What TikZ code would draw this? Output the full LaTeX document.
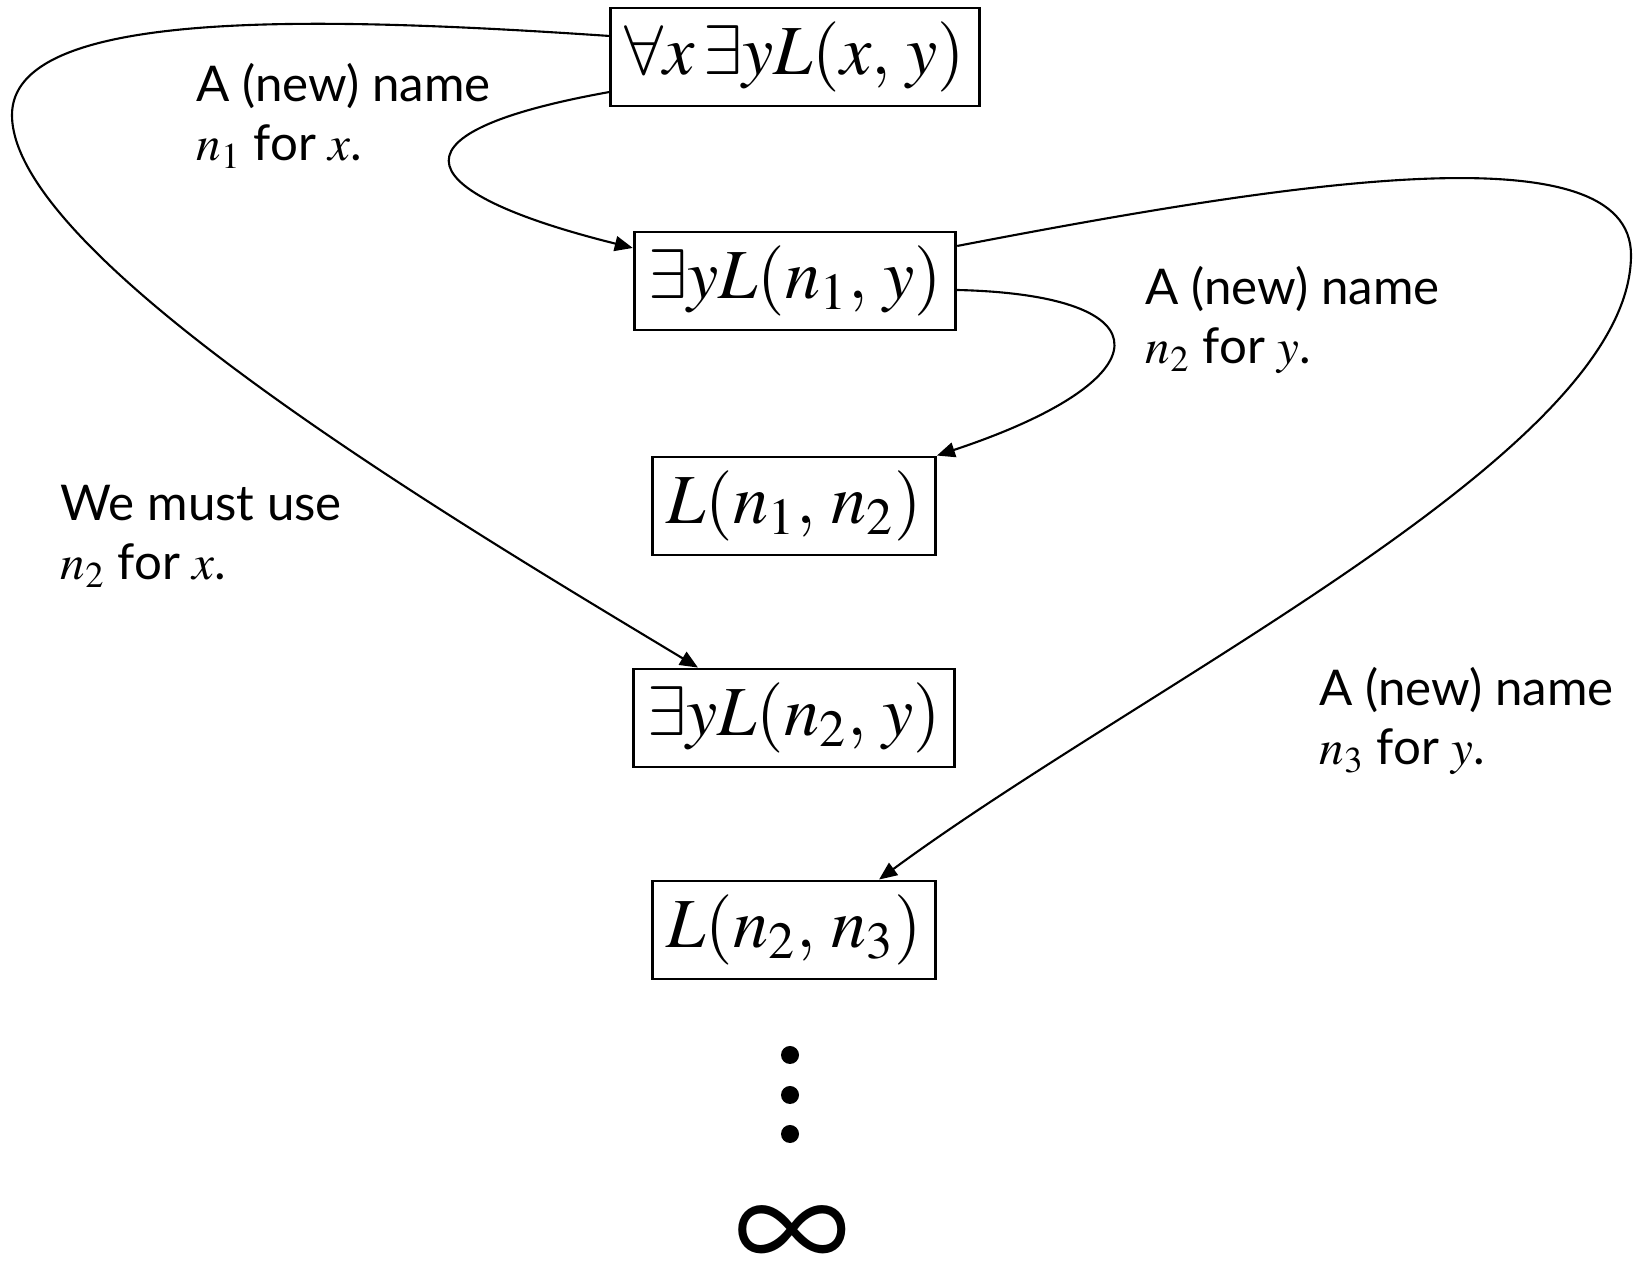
\documentclass[tikz,border=0pt]{standalone}
\usepackage{mathptmx}
\usepackage[no-math]{fontspec}
\setmainfont{Lato}
\usetikzlibrary{arrows.meta}

\begin{document}
\begin{tikzpicture}[x=0.01cm, y=-0.01cm,
    form/.style   ={draw=black, line width=0.8pt, minimum height=0.98cm,
                    inner xsep=4pt, font=\fontsize{20}{24}\selectfont},
    note/.style   ={anchor=base west, align=left, inner sep=0pt,
                    font=\fontsize{14}{16.8}\selectfont},
    pass/.style   ={-{Triangle[length=1.8mm, width=1.5mm]}, line width=0.6pt},
    contdot/.style={circle, fill=black, inner sep=0pt, minimum size=0.18cm},
  ]
  \useasboundingbox (0,0) rectangle (1633,1271);

  % ---- formulas (middle column) ----
  \node[form] (all)   at (795,57)  {$\forall x\,\exists yL(x,\,y)$};
  \node[form] (exone) at (795,281) {$\exists yL(n_1,\,y)$};
  \node[form] (lone)  at (794,506) {$L(n_1,\,n_2)$};
  \node[form] (extwo) at (794,718) {$\exists yL(n_2,\,y)$};
  \node[form] (ltwo)  at (794,930) {$L(n_2,\,n_3)$};

  % ---- and so on ----
  \node[contdot] (d1) at (790,1055) {};
  \node[contdot] (d2) at (790,1095) {};
  \node[contdot] (d3) at (790,1134) {};
  \node[inner sep=0pt, font=\fontsize{46}{50}\selectfont\boldmath] (inf) at (792,1240) {$\infty$};

  % ---- notes (anchored on the baseline of the last line) ----
  \node[note] (nx)  at (196,161)  {A (new) name\\$n_1$ for $x$.};
  \node[note] (ny)  at (1145,364) {A (new) name\\$n_2$ for $y$.};
  \node[note] (nmu) at (60,580)   {We must use\\$n_2$ for $x$.};
  \node[note] (nyy) at (1319,765) {A (new) name\\$n_3$ for $y$.};

  % ---- instantiation arrows ----
  \draw[pass] ([yshift=-0.35cm]all.west) .. controls (370,135) and (420,195)
    .. ([yshift=0.33cm]exone.west);
  \draw[pass] ([yshift=-0.09cm]exone.east) .. controls (1170,295) and (1165,380)
    .. (lone.north east);
  \draw[pass] ([yshift=0.21cm]all.west) .. controls (300,15) and (12,10) .. (12,115)
    .. controls (12,260) and (470,530) .. ([xshift=-0.96cm]extwo.north);
  \draw[pass] ([yshift=0.35cm]exone.east) .. controls (1300,180) and (1631,130) .. (1631,255)
    .. controls (1631,450) and (1150,680) .. ([xshift=0.85cm]ltwo.north);

\end{tikzpicture}
\end{document}
